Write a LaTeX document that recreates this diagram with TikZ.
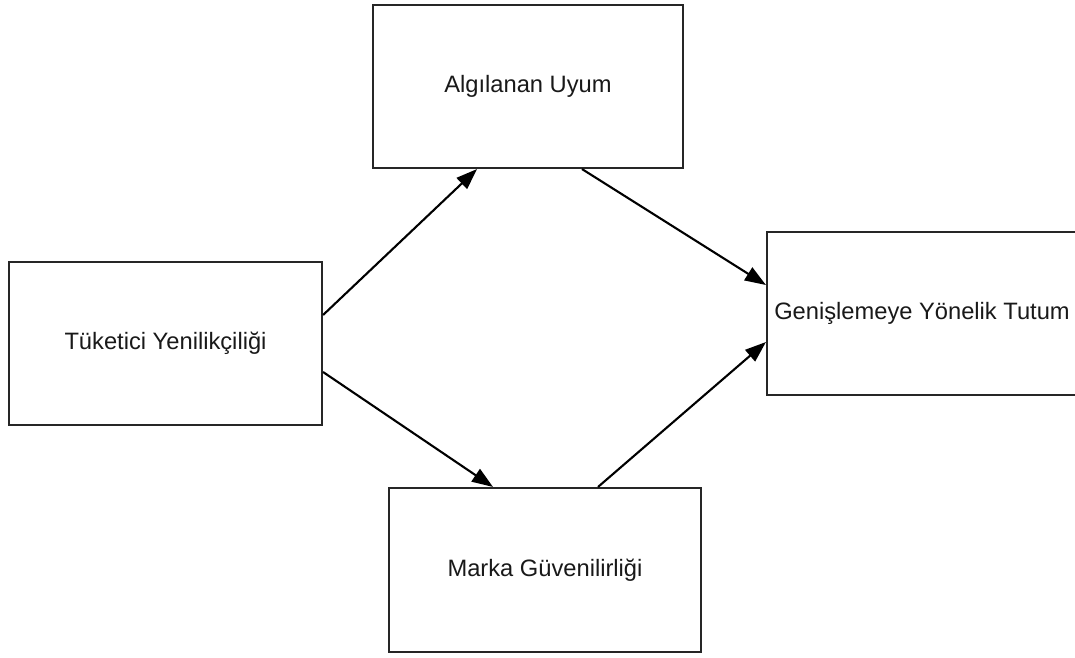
\documentclass[tikz,border=0pt]{standalone}
\usepackage{fontspec}
\setmainfont{Liberation Sans}
\usetikzlibrary{arrows.meta}
\begin{document}
\begin{tikzpicture}[x=1pt,y=-1pt,
  box/.style={draw=black!85,line width=2.1pt,fill=white,inner sep=0pt,
    font=\fontsize{23.7}{28}\selectfont,text=black!90},
  conn/.style={draw=black,line width=2.1pt,-{Triangle[length=21pt,width=15pt]}}]
\useasboundingbox (0,0) rectangle (1075,657);
\node[box,minimum width=310pt,minimum height=163pt] (alg) at (528,86.5) {Algılanan Uyum};
\node[box,minimum width=313pt,minimum height=163pt] (tuk) at (165.5,343.5) {Tüketici Yenilikçiliği};
\node[box,minimum width=316pt,minimum height=163pt] (gen) at (925,313.5) {\hspace*{-6pt}Genişlemeye Yönelik Tutum};
\node[box,minimum width=312pt,minimum height=164pt] (mar) at (545,570) {Marka Güvenilirliği};
\draw[conn] ([yshift=28.5pt]tuk.east) -- ([xshift=-51pt]alg.south);
\draw[conn] ([yshift=-28.5pt]tuk.east) -- ([xshift=-52pt]mar.north);
\draw[conn] ([xshift=54pt]alg.south) -- ([yshift=28.5pt]gen.west);
\draw[conn] ([xshift=53pt]mar.north) -- ([yshift=-28.5pt]gen.west);
\end{tikzpicture}
\end{document}
